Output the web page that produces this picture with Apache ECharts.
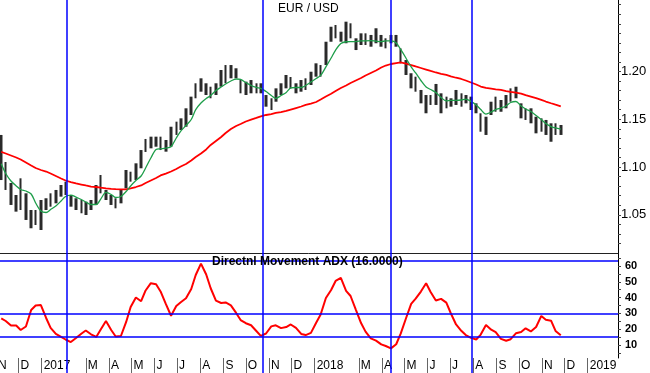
<!DOCTYPE html>
<html><head><meta charset="utf-8">
<script src="https://cdn.jsdelivr.net/npm/echarts@6/dist/echarts.min.js"></script>
<style>html,body{margin:0;padding:0;background:#fff}#c{width:650px;height:373px}</style>
</head><body><div id="c"></div><script>
const dates = ['2016-11-08','2016-11-14','2016-11-21','2016-11-28','2016-12-04','2016-12-11','2016-12-18','2016-12-24','2016-12-31','2017-01-07',
'2017-01-13','2017-01-20','2017-01-27','2017-02-02','2017-02-09','2017-02-16','2017-02-23','2017-03-01','2017-03-08','2017-03-15',
'2017-03-21','2017-03-28','2017-04-04','2017-04-10','2017-04-17','2017-04-24','2017-04-30','2017-05-07','2017-05-14','2017-05-20',
'2017-05-27','2017-06-03','2017-06-09','2017-06-16','2017-06-23','2017-06-30','2017-07-06','2017-07-13','2017-07-20','2017-07-26',
'2017-08-02','2017-08-09','2017-08-15','2017-08-22','2017-08-29','2017-09-04','2017-09-11','2017-09-18','2017-09-24','2017-10-01',
'2017-10-08','2017-10-15','2017-10-21','2017-10-28','2017-11-04','2017-11-10','2017-11-17','2017-11-24','2017-11-30','2017-12-07',
'2017-12-14','2017-12-20','2017-12-27','2018-01-03','2018-01-09','2018-01-16','2018-01-23','2018-01-29','2018-02-05','2018-02-12',
'2018-02-18','2018-02-25','2018-03-04','2018-03-10','2018-03-17','2018-03-24','2018-03-31','2018-04-06','2018-04-13','2018-04-20',
'2018-04-26','2018-05-03','2018-05-10','2018-05-16','2018-05-23','2018-05-30','2018-06-05','2018-06-12','2018-06-19','2018-06-26',
'2018-07-02','2018-07-09','2018-07-16','2018-07-22','2018-07-29','2018-08-05','2018-08-11','2018-08-18','2018-08-25','2018-08-31',
'2018-09-07','2018-09-14','2018-09-20','2018-09-27','2018-10-04','2018-10-10','2018-10-17','2018-10-24','2018-10-31','2018-11-06',
'2018-11-13','2018-11-19','2018-11-26'];
const highs = [1.1336,1.1053,1.0833,1.0707,1.0882,1.0725,1.0550,1.0550,1.0655,1.0673,
1.0725,1.0760,1.0812,1.0847,1.0707,1.0673,1.0655,1.0637,1.0655,1.0812,
1.0917,1.0760,1.0707,1.0673,1.0760,1.0969,1.0951,1.1039,1.1178,1.1294,
1.1318,1.1318,1.1318,1.1283,1.1422,1.1475,1.1510,1.1615,1.1737,1.1877,
1.1929,1.1877,1.1841,1.1877,1.2016,1.2068,1.2068,1.2034,1.1911,1.1894,
1.1911,1.1877,1.1877,1.1754,1.1720,1.1824,1.1877,1.1964,1.1943,1.1877,
1.1911,1.1929,1.1998,1.2086,1.2068,1.2312,1.2469,1.2487,1.2417,1.2522,
1.2505,1.2348,1.2400,1.2400,1.2383,1.2453,1.2383,1.2348,1.2383,1.2383,
1.2243,1.2121,1.1982,1.1946,1.1807,1.1754,1.1754,1.1870,1.1772,1.1737,
1.1720,1.1807,1.1772,1.1754,1.1737,1.1667,1.1563,1.1527,1.1684,1.1737,
1.1702,1.1754,1.1824,1.1841,1.1667,1.1615,1.1615,1.1527,1.1510,1.1493,
1.1458,1.1458,1.1440];
const lows = [1.0864,1.0760,1.0603,1.0533,1.0550,1.0446,1.0359,1.0393,1.0341,1.0550,
1.0585,1.0620,1.0690,1.0707,1.0585,1.0550,1.0516,1.0498,1.0550,1.0603,
1.0725,1.0655,1.0603,1.0568,1.0620,1.0777,1.0847,1.0864,1.0987,1.1158,
1.1196,1.1213,1.1178,1.1161,1.1213,1.1336,1.1388,1.1422,1.1545,1.1720,
1.1789,1.1754,1.1720,1.1754,1.1841,1.1877,1.1929,1.1929,1.1772,1.1754,
1.1772,1.1772,1.1772,1.1632,1.1597,1.1684,1.1754,1.1824,1.1822,1.1772,
1.1789,1.1807,1.1859,1.1946,1.1946,1.2068,1.2312,1.2348,1.2312,1.2296,
1.2348,1.2225,1.2278,1.2278,1.2260,1.2296,1.2260,1.2243,1.2296,1.2260,
1.2086,1.1964,1.1824,1.1789,1.1667,1.1563,1.1650,1.1650,1.1563,1.1615,
1.1632,1.1650,1.1632,1.1667,1.1597,1.1563,1.1370,1.1336,1.1545,1.1579,
1.1579,1.1615,1.1684,1.1720,1.1510,1.1493,1.1458,1.1353,1.1370,1.1336,
1.1265,1.1336,1.1336];
const maFast = [1.1035,1.0932,1.0854,1.0802,1.0765,1.0749,1.0718,1.0624,1.0540,1.0524,
1.0555,1.0592,1.0645,1.0692,1.0707,1.0686,1.0660,1.0634,1.0608,1.0608,
1.0665,1.0734,1.0713,1.0681,1.0692,1.0744,1.0802,1.0859,1.0906,1.0990,
1.1095,1.1184,1.1191,1.1199,1.1213,1.1304,1.1377,1.1435,1.1498,1.1602,
1.1671,1.1718,1.1749,1.1801,1.1838,1.1870,1.1901,1.1922,1.1917,1.1885,
1.1854,1.1833,1.1824,1.1791,1.1749,1.1718,1.1749,1.1781,1.1828,1.1833,
1.1833,1.1854,1.1890,1.1927,1.1959,1.2048,1.2142,1.2225,1.2294,1.2312,
1.2314,1.2314,1.2320,1.2322,1.2323,1.2318,1.2314,1.2320,1.2320,1.2299,
1.2231,1.2142,1.2048,1.1985,1.1906,1.1838,1.1812,1.1781,1.1728,1.1692,
1.1697,1.1697,1.1702,1.1712,1.1688,1.1650,1.1602,1.1555,1.1576,1.1602,
1.1618,1.1639,1.1676,1.1686,1.1639,1.1608,1.1582,1.1540,1.1498,1.1456,
1.1424,1.1409,1.1398];
const maSlow = [1.1158,1.1142,1.1121,1.1100,1.1079,1.1048,1.1016,1.0990,1.0969,1.0953,
1.0932,1.0906,1.0880,1.0859,1.0843,1.0828,1.0817,1.0807,1.0796,1.0791,
1.0784,1.0777,1.0772,1.0769,1.0767,1.0767,1.0777,1.0791,1.0807,1.0833,
1.0859,1.0885,1.0912,1.0932,1.0953,1.0980,1.1006,1.1032,1.1069,1.1105,
1.1142,1.1184,1.1231,1.1273,1.1315,1.1356,1.1398,1.1430,1.1451,1.1477,
1.1496,1.1514,1.1531,1.1545,1.1555,1.1566,1.1576,1.1587,1.1602,1.1618,
1.1634,1.1650,1.1665,1.1681,1.1707,1.1739,1.1768,1.1796,1.1828,1.1854,
1.1880,1.1906,1.1932,1.1959,1.1985,1.2011,1.2042,1.2063,1.2079,1.2089,
1.2095,1.2084,1.2068,1.2053,1.2037,1.2021,1.2006,1.1990,1.1976,1.1964,
1.1950,1.1935,1.1922,1.1906,1.1885,1.1864,1.1843,1.1828,1.1820,1.1813,
1.1807,1.1796,1.1788,1.1779,1.1768,1.1752,1.1737,1.1721,1.1704,1.1686,
1.1668,1.1653,1.1636];
const adx = [26.9,25.2,22.3,22.3,19.5,21.7,32.2,35.0,35.3,27.1,
20.8,17.0,15.1,13.5,11.9,14.4,17.1,19.2,16.8,15.1,
19.8,25.2,19.5,15.4,15.7,24.6,34.1,40.1,37.7,44.5,
49.1,48.5,43.9,36.0,28.5,34.7,37.1,39.6,45.4,54.3,
61.5,54.6,45.9,38.1,36.6,36.9,35.1,30.3,25.8,23.8,
22.5,18.9,15.8,17.3,21.8,22.5,20.7,21.4,23.0,20.8,
17.0,16.3,17.7,24.1,29.3,39.7,44.8,50.5,52.4,44.3,
41.0,32.4,23.9,18.5,14.2,12.8,10.4,9.4,7.9,10.5,
17.2,26.8,36.0,39.3,43.8,49.1,43.5,38.2,39.2,36.8,
30.1,23.0,19.0,16.3,14.5,13.5,16.6,22.7,19.7,18.1,
13.9,12.7,13.7,17.4,18.2,20.6,18.6,21.4,28.4,26.0,
25.4,18.9,16.2];
const eventDates = ['2017-02-03','2017-10-24','2018-04-13','2018-07-30'];
const adxLevels = [63.4, 30, 15];
const monthTicks = ['2016-11-01','2016-12-01','2017-01-01','2017-03-01','2017-04-01','2017-05-01','2017-06-01','2017-07-01','2017-08-01','2017-09-01','2017-10-01','2017-11-01','2017-12-01','2018-01-01','2018-03-01','2018-04-01','2018-05-01','2018-06-01','2018-07-01','2018-08-01','2018-09-01','2018-10-01','2018-11-01','2018-12-01','2019-01-01'];
const monthLabels = ['N','D','2017','M','A','M','J','J','A','S','O','N','D','2018','M','A','M','J','J','A','S','O','N','D','2019'];
const priceLabels = [1.05, 1.10, 1.15, 1.20];
const priceTicks = [1.02,1.03,1.04,1.05,1.06,1.07,1.08,1.09,1.10,1.11,1.12,1.13,1.14,1.15,1.16,1.17,1.18,1.19,1.20,1.21,1.22,1.23,1.24,1.25,1.26,1.27];
const adxLabels = [10, 20, 30, 40, 50, 60];
const adxTicks = [5,10,15,20,25,30,35,40,45,50,55,60,65];

const FONT = "'Liberation Sans', Arial, sans-serif";
const NARROW = "'Liberation Sans Narrow', 'Arial Narrow', 'Liberation Sans', Arial, sans-serif";
const t = s => Date.parse(s + 'T00:00:00Z');
const X_MIN = t('2016-11-01');
const X_MAX = Date.parse('2019-02-10T12:00:00Z');
const labelMap = {};
monthTicks.forEach((d, i) => { labelMap[t(d)] = monthLabels[i]; });

const xBase = gi => ({
  type: 'value', gridIndex: gi, min: X_MIN, max: X_MAX,
  splitLine: {show: false}, axisLabel: {show: false}, axisTick: {show: false},
  axisLine: {show: false, onZero: false}, axisPointer: {show: false}
});
const vLines = (xi, yi) => ({
  type: 'line', xAxisIndex: xi, yAxisIndex: yi, data: [], silent: true, z: 3,
  markLine: {
    symbol: 'none', silent: true, animation: false, label: {show: false},
    lineStyle: {color: '#0000ff', width: 1.5, type: 'solid'},
    emphasis: {disabled: true},
    data: eventDates.map(d => ({xAxis: t(d)}))
  }
});

const x0 = xBase(0);
x0.axisLine = {show: true, onZero: false, lineStyle: {color: '#222', width: 1}};
const x2 = xBase(2);
x2.position = 'top';
x2.axisTick = {show: true, inside: true, length: 15, customValues: monthTicks.map(t), lineStyle: {color: '#666', width: 1}};
x2.axisLabel = {show: true, inside: true, customValues: monthTicks.map(t), margin: 2,
  formatter: v => labelMap[v] || '', align: 'left', verticalAlign: 'top', padding: [0, 0, 0, 2],
  fontSize: 12, color: '#000', fontFamily: NARROW};

const option = {
  animation: false,
  backgroundColor: '#fff',
  title: [
    {text: 'EUR / USD', left: 278, top: 3, padding: 0,
     textStyle: {fontSize: 12, fontWeight: 'normal', color: '#000', fontFamily: FONT}},
    {text: 'Directnl Movement ADX (16.0000)', left: 212, top: 256, padding: 0,
     textStyle: {fontSize: 12, fontWeight: 'bold', color: '#000', fontFamily: FONT}}
  ],
  grid: [
    {left: -4, right: 32, top: 0, height: 253, containLabel: false, outerBoundsMode: 'none'},
    {left: -4, right: 32, top: 253, height: 105, containLabel: false, outerBoundsMode: 'none'},
    {left: -4, right: 32, top: 358, height: 15, containLabel: false, outerBoundsMode: 'none'}
  ],
  xAxis: [x0, xBase(1), x2],
  yAxis: [
    {type: 'value', gridIndex: 0, position: 'right', min: 1.0100, max: 1.2749,
     splitLine: {show: false},
     axisLine: {show: true, lineStyle: {color: '#000'}},
     axisTick: {show: true, customValues: priceTicks, length: 3, lineStyle: {color: '#444'}},
     axisLabel: {customValues: priceLabels, formatter: v => v.toFixed(2), margin: 3,
                 fontSize: 13, color: '#000', fontFamily: FONT}},
    {type: 'value', gridIndex: 1, position: 'right', min: 1.8, max: 68.2,
     splitLine: {show: false},
     axisLine: {show: true, lineStyle: {color: '#000'}},
     axisTick: {show: true, customValues: adxTicks, length: 3, lineStyle: {color: '#444'}},
     axisLabel: {customValues: adxLabels, margin: 7, fontSize: 11, fontWeight: 'bold',
                 color: '#000', fontFamily: FONT}},
    {type: 'value', gridIndex: 2, min: 0, max: 1, show: false}
  ],
  series: [
    {type: 'candlestick', xAxisIndex: 0, yAxisIndex: 0, z: 2, barWidth: 3,
     encode: {x: 0, y: [1, 2, 3, 4]},
     data: dates.map((d, i) => [t(d), lows[i], highs[i], lows[i], highs[i]]),
     itemStyle: {color: '#2a2a2a', color0: '#2a2a2a', borderColor: '#2a2a2a', borderColor0: '#2a2a2a', borderWidth: 0}},
    vLines(0, 0),
    {type: 'line', xAxisIndex: 0, yAxisIndex: 0, z: 4, showSymbol: false, symbol: 'none',
     data: dates.map((d, i) => [t(d), maSlow[i]]), lineStyle: {color: '#ff0000', width: 1.8}},
    {type: 'line', xAxisIndex: 0, yAxisIndex: 0, z: 4, showSymbol: false, symbol: 'none', smooth: 0.3,
     data: dates.map((d, i) => [t(d), maFast[i]]), lineStyle: {color: '#1e9e4a', width: 1.3}},
    vLines(1, 1),
    {type: 'line', xAxisIndex: 1, yAxisIndex: 1, data: [], silent: true, z: 3,
     markLine: {symbol: 'none', silent: true, animation: false, label: {show: false},
       lineStyle: {color: '#0000ff', width: 1.5, type: 'solid'}, emphasis: {disabled: true},
       data: adxLevels.map(v => ({yAxis: v}))}},
    {type: 'line', xAxisIndex: 1, yAxisIndex: 1, z: 4, showSymbol: false, symbol: 'none',
     data: dates.map((d, i) => [t(d), adx[i]]), lineStyle: {color: '#ff0000', width: 2}},
    vLines(2, 2)
  ]
};
const chart = echarts.init(document.getElementById('c'), null, {renderer: 'canvas'});
chart.setOption(option);
</script></body></html>
